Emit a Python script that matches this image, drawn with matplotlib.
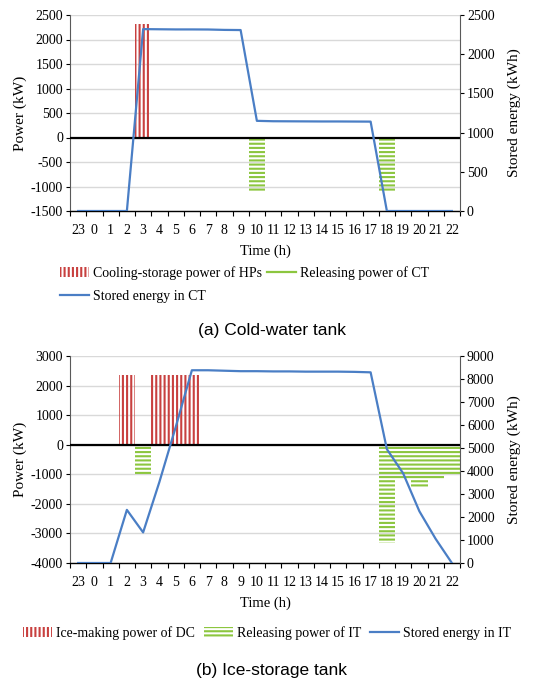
import numpy as np
import matplotlib
matplotlib.use('Agg')
import matplotlib.pyplot as plt

plt.rcParams['font.family'] = ['Liberation Serif', 'DejaVu Serif']
plt.rcParams['hatch.linewidth'] = 1.5
plt.rcParams['axes.unicode_minus'] = False

hours = ['23', '0', '1', '2', '3', '4', '5', '6', '7', '8', '9', '10', '11',
         '12', '13', '14', '15', '16', '17', '18', '19', '20', '21', '22']

# (a) cold-water tank
hp_cooling = [0, 0, 0, 0, 2320, 0, 0, 0, 0, 0, 0, 0,
              0, 0, 0, 0, 0, 0, 0, 0, 0, 0, 0, 0]
ct_release = [0, 0, 0, 0, 0, 0, 0, 0, 0, 0, 0, -1120,
              0, 0, 0, 0, 0, 0, 0, -1120, 0, 0, 0, 0]
ct_stored = [0, 0, 0, 0, 2320, 2318, 2316, 2316, 2315, 2310, 2308, 1150,
             1145, 1144, 1143, 1142, 1142, 1141, 1140, 0, 0, 0, 0, 0]

# (b) ice-storage tank
dc_icemaking = [0, 0, 0, 2350, 0, 2350, 2350, 2350, 0, 0, 0, 0,
                0, 0, 0, 0, 0, 0, 0, 0, 0, 0, 0, 0]
it_release = [0, 0, 0, 0, -1000, 0, 0, 0, 0, 0, 0, 0,
              0, 0, 0, 0, 0, 0, 0, -3330, -1200, -1480, -1200, -1050]
it_stored = [0, 0, 0, 2310, 1330, 3520, 5900, 8380, 8380, 8360, 8340, 8340,
             8330, 8330, 8320, 8320, 8320, 8310, 8290, 4950, 3900, 2250, 1050, 0]

RED = '#C8403F'
GREEN = '#8CC63F'
BLUE = '#4A7EC5'
W, H = 544, 680


def panel(rect, bars_pos, bars_neg, line, ylim, ystep, y2lim, y2step):
    ax = fig.add_axes(rect)
    x = np.arange(len(hours))
    b1 = ax.bar(x, bars_pos, width=1.0, facecolor='none', edgecolor=RED,
                hatch='||||', linewidth=0, zorder=2)
    b2 = ax.bar(x, bars_neg, width=1.0, facecolor='none', edgecolor=GREEN,
                hatch='----', linewidth=0, zorder=2)
    ax.axhline(0, color='black', lw=1.6, zorder=3)
    ax.set_xlim(-0.5, len(hours) - 0.5)
    ax.set_ylim(*ylim)
    ax.set_yticks(np.arange(ylim[0], ylim[1] + 1, ystep))
    ax.yaxis.grid(True, color='#D9D9D9', lw=1.0)
    ax.set_axisbelow(True)
    ax.set_xticks(np.arange(len(hours) + 1) - 0.5)
    ax.set_xticklabels([])
    ax.set_xticks(x, minor=True)
    ax.set_xticklabels(hours, minor=True, fontsize=10)
    ax.tick_params(axis='x', which='major', length=3.5, direction='out', width=0.8)
    ax.tick_params(axis='x', which='minor', length=0, pad=9)
    ax.tick_params(axis='y', length=3, width=0.8, labelsize=10, pad=2)
    ax.set_ylabel('Power (kW)', fontsize=11, labelpad=3)
    ax.set_xlabel('Time (h)', fontsize=10.5, labelpad=6)
    for s in ['top', 'right']:
        ax.spines[s].set_visible(False)
    ax.spines['left'].set_color('#595959')
    ax.spines['left'].set_linewidth(0.8)
    ax.spines['bottom'].set_linewidth(1.0)

    ax2 = ax.twinx()
    l, = ax2.plot(x, line, color=BLUE, lw=1.6, zorder=4)
    ax2.set_ylim(*y2lim)
    ax2.set_yticks(np.arange(y2lim[0], y2lim[1] + 1, y2step))
    ax2.tick_params(axis='y', length=3, width=0.8, labelsize=10, pad=2)
    ax2.set_ylabel('Stored energy (kWh)', fontsize=11, labelpad=9)
    for s in ['top', 'left', 'bottom']:
        ax2.spines[s].set_visible(False)
    ax2.spines['right'].set_color('#595959')
    ax2.spines['right'].set_linewidth(0.8)
    return b1, b2, l


fig = plt.figure(figsize=(W / 100, H / 100), dpi=100)

r1, g1, l1 = panel([70 / W, 1 - 211 / H, 390 / W, 196 / H], hp_cooling, ct_release,
                   ct_stored, (-1500, 2500), 500, (0, 2500), 500)
r2, g2, l2 = panel([70 / W, 1 - 563 / H, 390 / W, 207 / H], dc_icemaking, it_release,
                   it_stored, (-4000, 3000), 1000, (0, 9000), 1000)

green_line = plt.Line2D([], [], color=GREEN, lw=1.6)
fig.legend([r1, l1, green_line],
           ['Cooling-storage power of HPs', 'Stored energy in CT', 'Releasing power of CT'],
           ncol=2, loc='upper left', bbox_to_anchor=(60 / W, 1 - 266 / H),
           frameon=False, fontsize=10, handlelength=2.1, handletextpad=0.3,
           columnspacing=0.3, labelspacing=0.75, borderpad=0, borderaxespad=0)
fig.legend([r2, g2, l2],
           ['Ice-making power of DC', 'Releasing power of IT', 'Stored energy in IT'],
           ncol=3, loc='center', bbox_to_anchor=(267 / W, 1 - 633 / H),
           frameon=False, fontsize=10, handlelength=2.1, handletextpad=0.3,
           columnspacing=0.6, borderpad=0, borderaxespad=0)

fig.text(272 / W, 1 - 330 / H, '(a) Cold-water tank', ha='center', va='center',
         fontsize=12.5, family='Liberation Sans')
fig.text(272 / W, 1 - 670 / H, '(b) Ice-storage tank', ha='center', va='center',
         fontsize=12.5, family='Liberation Sans')

fig.savefig('out.png', dpi=100)
